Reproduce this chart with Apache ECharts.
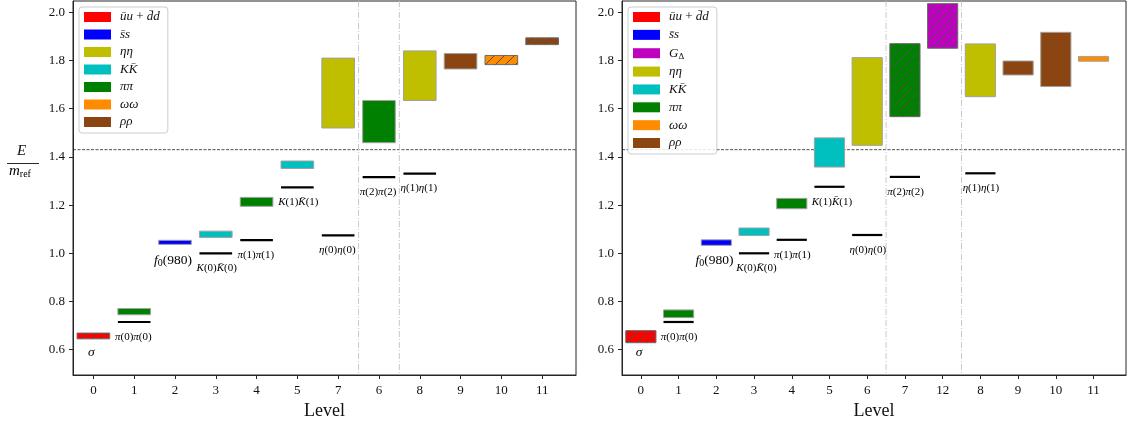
<!DOCTYPE html>
<html>
<head>
<meta charset="utf-8">
<script src="https://cdn.jsdelivr.net/npm/echarts@6/dist/echarts.min.js"></script>
<style>
  html, body { margin: 0; padding: 0; background: #fff; }
  #chart { width: 1129px; height: 427px; }
</style>
</head>
<body>
<div id="chart"></div>
<script>
// ---- Level slots on each panel's x axis (tick labels) ----
const leftLevels  = ['0','1','2','3','4','5','7','6','8','9','10','11'];
const rightLevels = ['0','1','2','3','4','5','6','7','12','8','9','10','11'];

// ---- Channels, in legend order ----
const leftChannels  = ['ūu + d̄d', 's̄s', 'ηη', 'KK̄', 'ππ', 'ωω', 'ρρ'];
const rightChannels = ['ūu + d̄d', 's̄s', 'G_Δ', 'ηη', 'KK̄', 'ππ', 'ωω', 'ρρ'];

// ---- Energy bands E/m_ref: [slot, low, high, hatched] ----
const leftUU   = [[0, 0.645, 0.669, 1]];
const leftSS   = [[2, 1.037, 1.054, 0]];
const leftEtaEta = [[6, 1.520, 1.810, 0], [8, 1.634, 1.840, 0]];
const leftKK   = [[3, 1.066, 1.092, 0], [5, 1.352, 1.383, 0]];
const leftPiPi = [[1, 0.745, 0.771, 0], [4, 1.195, 1.232, 0], [7, 1.459, 1.634, 0]];
const leftOmOm = [[10, 1.783, 1.821, 1]];
const leftRhoRho = [[9, 1.765, 1.829, 0], [11, 1.866, 1.894, 1]];

const rightUU   = [[0, 0.629, 0.679, 1]];
const rightSS   = [[2, 1.033, 1.056, 0]];
const rightGD   = [[8, 1.851, 2.036, 1]];
const rightEtaEta = [[6, 1.448, 1.812, 0], [9, 1.650, 1.869, 0]];
const rightKK   = [[3, 1.074, 1.105, 0], [5, 1.358, 1.479, 0]];
const rightPiPi = [[1, 0.733, 0.765, 0], [4, 1.185, 1.228, 0], [7, 1.567, 1.870, 1]];
const rightOmOm = [[12, 1.797, 1.817, 0]];
const rightRhoRho = [[10, 1.740, 1.798, 0], [11, 1.692, 1.917, 0]];

// ---- Non-interacting two-particle levels ----
const pairNames  = ['π(0)π(0)', 'K(0)K̄(0)', 'π(1)π(1)', 'K(1)K̄(1)', 'η(0)η(0)', 'π(2)π(2)', 'η(1)η(1)'];
const leftPairSlots  = [1, 3, 4, 5, 6, 7, 8];
const leftPairE      = [0.715, 1.000, 1.055, 1.274, 1.074, 1.316, 1.331];
const rightPairSlots = [1, 3, 4, 5, 6, 7, 9];
const rightPairE     = [0.715, 1.000, 1.056, 1.276, 1.076, 1.317, 1.332];

// ---- Annotations ----
const annoNames = ['σ', 'f_0(980)'];
const annoSlots = [-0.05, 1.95];
const annoE     = [0.588, 0.969];

// ---- Reference lines ----
const thresholdE = 1.43;
const leftDividers  = [6.5, 7.5];
const rightDividers = [6.5, 8.5];

// ---------------------------------------------------------------
const COLORS = {
  'ūu + d̄d': '#ff0000', 's̄s': '#0000ff', 'G_Δ': '#bf00bf', 'ηη': '#bfbf00',
  'KK̄': '#00bfbf', 'ππ': '#008000', 'ωω': '#ff8c00', 'ρρ': '#8b4513'
};
const SERIF = '"Liberation Serif", "DejaVu Serif", serif';
const HATCH_STEP = 10;

// '/' stripes clipped to a rectangle (screen coords), one polyline each
function hatchStripes(x0, y0, x1, y1) {
  const out = [];
  const kStart = Math.ceil((x0 + y0) / HATCH_STEP) * HATCH_STEP;
  for (let k = kStart; k <= x1 + y1; k += HATCH_STEP) {
    const xa = Math.max(x0, k - y1), xb = Math.min(x1, k - y0);
    if (xb - xa > 0.5) {
      out.push({ type: 'polyline', shape: { points: [[xa, k - xa], [xb, k - xb]] },
        style: { stroke: '#505050', fill: null, lineWidth: 1 } });
    }
  }
  return out;
}

// math-style text: letters italic, digits/brackets/operators upright, "_x" subscript
function richify(str) {
  let out = '', cur = null, buf = '';
  const flush = () => { if (buf) out += '{' + cur + '|' + buf + '}'; buf = ''; };
  for (let i = 0; i < str.length; i++) {
    let ch = str[i], st;
    if (ch === '_') { st = 'sub'; ch = str[++i]; }
    else if ('()0123456789+ '.indexOf(ch) >= 0) st = 'u';
    else st = 'i';
    if (st !== cur) { flush(); cur = st; }
    buf += ch;
  }
  flush();
  return out;
}
function richStyles(size, lh, color) {
  color = color || '#111';
  return {
    i:   { fontFamily: SERIF, fontStyle: 'italic', fontSize: size, color: color, lineHeight: lh },
    u:   { fontFamily: SERIF, fontSize: size, color: color, lineHeight: lh },
    sub: { fontFamily: SERIF, fontSize: Math.round(size * 0.72), color: color, lineHeight: lh, padding: [Math.round(size * 0.45), 0, 0, 0] }
  };
}
const RICH_SMALL = richStyles(11, 13, '#222');
const RICH_ANNO = richStyles(13.5, 15);

function bandSeries(name, data, g) {
  const color = COLORS[name];
  return {
    type: 'custom', name: name, xAxisIndex: g, yAxisIndex: g, z: 2,
    itemStyle: { color: color },
    encode: { x: 0, y: [1, 2] },
    data: data,
    renderItem: function (params, api) {
      const x = api.value(0), lo = api.value(1), hi = api.value(2);
      const a = api.coord([x - 0.4, hi]), b = api.coord([x + 0.4, lo]);
      const hatched = data[params.dataIndex][3] === 1;
      return {
        type: 'rect',
        shape: { x: a[0], y: a[1], width: b[0] - a[0], height: b[1] - a[1] },
        style: { fill: color, stroke: hatched ? '#6a6a6a' : '#a0a0a0', lineWidth: 1 }
      };
    }
  };
}

// stripes for hatched bands, drawn as their own layer above the bars
function hatchSeries(bandLists, g) {
  const rows = [];
  bandLists.forEach(list => list.forEach(r => { if (r[3] === 1) rows.push([r[0], r[1], r[2]]); }));
  return {
    type: 'custom', xAxisIndex: g, yAxisIndex: g, z: 5, silent: true,
    encode: { x: 0, y: [1, 2] },
    data: rows,
    renderItem: function (params, api) {
      const x = api.value(0), lo = api.value(1), hi = api.value(2);
      const a = api.coord([x - 0.4, hi]), b = api.coord([x + 0.4, lo]);
      return { type: 'group', children: hatchStripes(a[0], a[1], b[0], b[1]) };
    }
  };
}

function pairSeries(slots, energies, g) {
  return {
    type: 'custom', xAxisIndex: g, yAxisIndex: g, silent: true, z: 4,
    encode: { x: 0, y: 1 },
    data: slots.map((s, i) => [s, energies[i]]),
    renderItem: function (params, api) {
      const x = api.value(0), y = api.value(1), idx = params.dataIndex;
      const a = api.coord([x - 0.4, y]), b = api.coord([x + 0.4, y]);
      const t = api.coord([x - 0.47, y]);
      return {
        type: 'group',
        children: [
          { type: 'polyline', shape: { points: [a, b] },
            style: { stroke: '#000', fill: null, lineWidth: 2.2 } },
          { type: 'text', x: t[0], y: t[1] + 15,
            style: { text: richify(pairNames[idx]), rich: RICH_SMALL, align: 'left', verticalAlign: 'middle' } }
        ]
      };
    }
  };
}

function annoSeries(g) {
  return {
    type: 'custom', xAxisIndex: g, yAxisIndex: g, silent: true, z: 4,
    encode: { x: 0, y: 1 },
    data: annoSlots.map((s, i) => [s, annoE[i]]),
    renderItem: function (params, api) {
      const p = api.coord([api.value(0), api.value(1)]);
      return { type: 'text', x: p[0], y: p[1],
        style: { text: richify(annoNames[params.dataIndex]), rich: RICH_ANNO, align: 'center', verticalAlign: 'middle' } };
    }
  };
}

function refSeries(dividers, g) {
  // kind 0: horizontal threshold, kind 1: vertical divider
  const data = [[0, thresholdE]].concat(dividers.map(d => [1, d]));
  return {
    type: 'custom', xAxisIndex: g, yAxisIndex: g, silent: true, z: 1,
    encode: {},
    data: data,
    renderItem: function (params, api) {
      const cs = params.coordSys;
      const row = data[params.dataIndex];
      const kind = row[0], v = row[1];
      if (kind === 0) {
        const y = api.coord([0, v])[1];
        return { type: 'polyline', shape: { points: [[cs.x, y], [cs.x + cs.width, y]] },
          style: { stroke: '#222', fill: null, lineWidth: 0.8, lineDash: [3, 1.5] } };
      }
      const x = api.coord([v, 1])[0];
      return { type: 'polyline', shape: { points: [[x, cs.y], [x, cs.y + cs.height]] },
        style: { stroke: '#c8c8c8', fill: null, lineWidth: 1, lineDash: [6, 2, 1, 2] } };
    }
  };
}

const Y_MIN = 0.495, Y_MAX = 2.047;
const yTicks = [0.6, 0.8, 1.0, 1.2, 1.4, 1.6, 1.8, 2.0];

function xAxis(levels, max, g) {
  const idx = levels.map((_, i) => i);
  return {
    type: 'value', gridIndex: g, min: -0.5, max: max,
    name: 'Level', nameLocation: 'middle', nameGap: 25,
    nameTextStyle: { fontFamily: SERIF, fontSize: 18, color: '#111' },
    axisLine: { show: true, onZero: false, lineStyle: { color: '#262626', width: 1 } },
    axisTick: { show: true, inside: false, length: 4, customValues: idx, lineStyle: { color: '#262626' } },
    axisLabel: { customValues: idx, margin: 9, fontFamily: SERIF, fontSize: 13, color: '#111',
      formatter: v => levels[Math.round(v)] },
    splitLine: { show: false }
  };
}
function yAxis(g) {
  return {
    type: 'value', gridIndex: g, min: Y_MIN, max: Y_MAX,
    axisLine: { show: true, onZero: false, lineStyle: { color: '#262626', width: 1 } },
    axisTick: { show: true, inside: false, length: 4, customValues: yTicks, lineStyle: { color: '#262626' } },
    axisLabel: { customValues: yTicks, margin: 8, fontFamily: SERIF, fontSize: 13, color: '#111',
      formatter: v => v.toFixed(1) },
    splitLine: { show: false }
  };
}

function legend(channels, left, gap) {
  return {
    data: channels, orient: 'vertical', left: left, top: 7, z: 10,
    icon: 'rect', itemWidth: 27, itemHeight: 10, itemGap: gap,
    padding: [3, 8, 4, 5],
    backgroundColor: 'rgba(255,255,255,0.85)', borderColor: '#cccccc', borderWidth: 1, borderRadius: 3,
    selectedMode: false,
    itemStyle: { borderWidth: 0 },
    formatter: n => richify(n),
    textStyle: { lineHeight: 14, padding: [0, 0, 0, 4], rich: richStyles(13, 14) }
  };
}

const series = [];
[[leftChannels, [leftUU, leftSS, leftEtaEta, leftKK, leftPiPi, leftOmOm, leftRhoRho]],
 [rightChannels, [rightUU, rightSS, rightGD, rightEtaEta, rightKK, rightPiPi, rightOmOm, rightRhoRho]]]
  .forEach(([chs, bands], g) => {
    series.push(refSeries(g === 0 ? leftDividers : rightDividers, g));
    chs.forEach((ch, k) => series.push(bandSeries(ch, bands[k], g)));
    series.push(hatchSeries(bands, g));
    series.push(g === 0 ? pairSeries(leftPairSlots, leftPairE, 0) : pairSeries(rightPairSlots, rightPairE, 1));
    series.push(annoSeries(g));
  });

const chart = echarts.init(document.getElementById('chart'), null, { renderer: 'canvas' });
chart.setOption({
  animation: false,
  backgroundColor: '#fff',
  grid: [
    { left: 73, top: 1, width: 503, height: 374, show: true, borderColor: '#262626', borderWidth: 1, backgroundColor: '#fff' },
    { left: 622, top: 1, width: 504, height: 374, show: true, borderColor: '#262626', borderWidth: 1, backgroundColor: '#fff' }
  ],
  xAxis: [xAxis(leftLevels, 11.83, 0), xAxis(rightLevels, 12.86, 1)],
  yAxis: [yAxis(0), yAxis(1)],
  legend: [legend(leftChannels, 79, 3.5), legend(rightChannels, 628, 3.86)],
  graphic: [
    { type: 'text', left: 17, top: 144, style: { text: 'E', font: 'italic 15px ' + SERIF, fill: '#111' } },
    { type: 'line', shape: { x1: 7, y1: 163.5, x2: 39, y2: 163.5 }, style: { stroke: '#111', lineWidth: 0.9 } },
    { type: 'text', left: 9, top: 164, style: { text: '{i|m}{s|ref}', rich: {
        i: { fontFamily: SERIF, fontStyle: 'italic', fontSize: 15, color: '#111' },
        s: { fontFamily: SERIF, fontSize: 10, color: '#111', padding: [6, 0, 0, 0] } } } }
  ],
  series: series
});
</script>
</body>
</html>
